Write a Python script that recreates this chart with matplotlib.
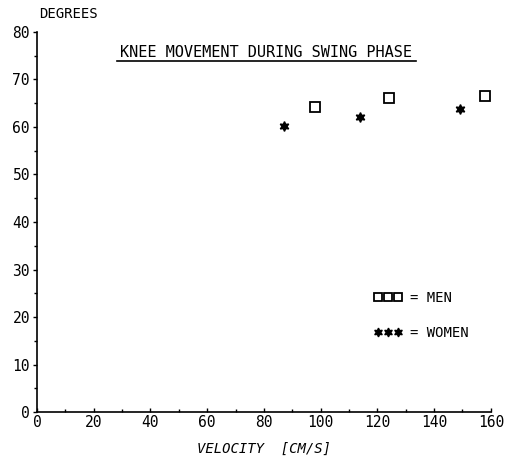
import matplotlib
matplotlib.use("Agg")
import matplotlib.pyplot as plt
from matplotlib.lines import Line2D

# data
men_velocity = [98, 124, 158]
men_degrees = [64.2, 66.0, 66.6]
women_velocity = [87, 114, 149]
women_degrees = [60.2, 62.0, 63.7]

x_ticks = [0, 20, 40, 60, 80, 100, 120, 140, 160]
y_ticks = [0, 10, 20, 30, 40, 50, 60, 70, 80]

plt.rcParams['font.family'] = ['DejaVu Sans Mono', 'DejaVu Sans']

fig = plt.figure(figsize=(5.06, 4.63), dpi=100)
ax = fig.add_axes([0.073, 0.110, 0.897, 0.821])

ax.plot(men_velocity, men_degrees, linestyle='none', marker='s', ms=7,
        mfc='white', mec='black', mew=1.3, label='= MEN')
ax.plot(women_velocity, women_degrees, linestyle='none', marker=(6, 1, 0), ms=7,
        color='black', label='= WOMEN')

ax.set_xlim(0, 160)
ax.set_ylim(0, 80)
ax.set_xticks(x_ticks)
ax.set_yticks(y_ticks)
ax.set_xticks(range(0, 161, 10), minor=True)
ax.set_yticks(range(0, 81, 5), minor=True)
ax.tick_params(axis='both', labelsize=10.5, length=3, width=1, pad=2)
ax.tick_params(axis='x', direction='in')
ax.tick_params(which='minor', length=2, width=1)
ax.tick_params(axis='x', which='minor', direction='in')
for side in ['top', 'right']:
    ax.spines[side].set_visible(False)
for side in ['left', 'bottom']:
    ax.spines[side].set_linewidth(1.2)

ax.set_xlabel('VELOCITY  [CM/S]', fontsize=10, style='italic', labelpad=9)
ax.text(0.005, 1.03, 'DEGREES', transform=ax.transAxes, fontsize=10,
        ha='left', va='bottom')

ax.text(0.504, 0.925, 'KNEE MOVEMENT DURING SWING PHASE', transform=ax.transAxes,
        fontsize=11, ha='center', va='bottom')
fig.add_artist(Line2D([117 / 506, 416 / 506], [1 - 61 / 463, 1 - 61 / 463],
                      color='black', lw=1.2))

ax.legend(loc='center left', bbox_to_anchor=(0.715, 0.255), frameon=False,
          numpoints=3, markerscale=0.9, handlelength=2.0, handletextpad=0.6,
          labelspacing=1.5, fontsize=10)

fig.savefig('out.png', dpi=100)
